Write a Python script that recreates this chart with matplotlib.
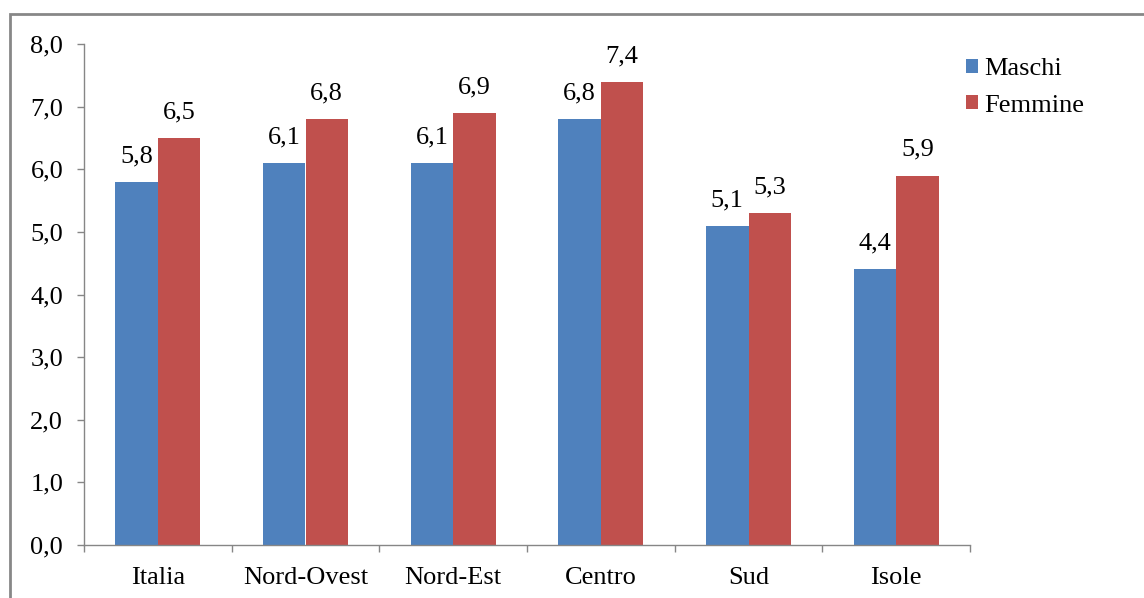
import matplotlib
matplotlib.use("Agg")
import matplotlib.pyplot as plt
import numpy as np
from matplotlib.patches import Rectangle

categories = ["Italia", "Nord-Ovest", "Nord-Est", "Centro", "Sud", "Isole"]
maschi = [5.8, 6.1, 6.1, 6.8, 5.1, 4.4]
femmine = [6.5, 6.8, 6.9, 7.4, 5.3, 5.9]
yticks = [0, 1, 2, 3, 4, 5, 6, 7, 8]

plt.rcParams['font.family'] = ['Liberation Serif', 'DejaVu Serif']
FS = 19

fig = plt.figure(figsize=(11.44, 5.98), dpi=100)
ax = fig.add_axes([84/1144, 53/598, (970-84)/1144, (545-44)/598])

x = np.arange(len(categories))
w = 0.2875
blue = "#4F81BD"
red = "#C0504D"
b1 = ax.bar(x - w/2, maschi, w, color=blue, label="Maschi")
b2 = ax.bar(x + w/2, femmine, w, color=red, label="Femmine")

for bars, vals in ((b1, maschi), (b2, femmine)):
    for r, v in zip(bars, vals):
        ax.annotate(f"{v:.1f}".replace(".", ","), (r.get_x() + r.get_width()/2, v),
                    xytext=(0, 10.5), textcoords="offset points", ha="center", va="bottom",
                    fontsize=FS)

ax.set_xlim(-0.5, len(categories) - 0.5)
ax.set_ylim(0, 8)
ax.set_yticks(yticks)
ax.set_yticklabels([f"{t:.1f}".replace(".", ",") for t in yticks], fontsize=FS)
ax.set_xticks(x)
ax.set_xticklabels(categories, fontsize=FS)
ax.set_xticks(np.arange(len(categories) + 1) - 0.5, minor=True)
ax.tick_params(axis="x", which="major", length=0, pad=16)
ax.tick_params(axis="x", which="minor", length=5, color="#868686", width=1)
ax.tick_params(axis="y", length=5, color="#868686", width=1, pad=10)

for s in ("top", "right"):
    ax.spines[s].set_visible(False)
for s in ("left", "bottom"):
    ax.spines[s].set_color("#868686")
    ax.spines[s].set_linewidth(1)

leg = fig.legend(handles=[b1, b2], labels=["Maschi", "Femmine"],
                 loc="upper left", bbox_to_anchor=(966/1144, 1 - 58/598),
                 frameon=False, fontsize=FS, handlelength=0.45, handleheight=0.45,
                 handletextpad=0.25, labelspacing=0.55, borderaxespad=0, borderpad=0)

fig.patches.append(Rectangle((10/1144, -0.1), 1.2, 1 - 14/598 + 0.1,
                             transform=fig.transFigure, fill=False,
                             edgecolor="#878787", linewidth=2))

fig.savefig("out.png", dpi=100)
